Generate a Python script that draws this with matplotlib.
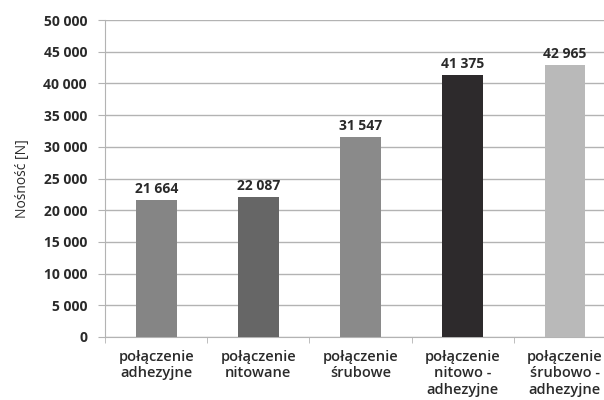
import matplotlib.pyplot as plt
import matplotlib.ticker as mticker

plt.rcParams['font.family'] = ['Open Sans', 'DejaVu Sans']

# Data
categories = ['połączenie\nadhezyjne', 'połączenie\nnitowane', 'połączenie\nśrubowe',
              'połączenie\nnitowo -\nadhezyjne', 'połączenie\nśrubowo -\nadhezyjne']
values = [21664, 22087, 31547, 41375, 42965]
bar_colors = ['#858585', '#666666', '#8a8a8a', '#2d2a2c', '#b9b9b9']

fig = plt.figure(figsize=(6.04, 4.0), dpi=100)
ax = fig.add_axes([0.174, 0.1575, 0.846, 0.7925])

x = list(range(len(values)))
ax.bar(x, values, width=0.4, color=bar_colors, zorder=3)

# value labels above the bars
for xi, v in zip(x, values):
    ax.text(xi, v + 600, f"{v:,}".replace(',', ' '), ha='center', va='bottom',
            fontsize=10, fontweight='bold', color='#2a2a2a')

ax.set_xlim(-0.5, len(values) - 0.5)
ax.set_ylim(0, 50000)
ax.yaxis.set_major_locator(mticker.MultipleLocator(5000))
ax.yaxis.set_major_formatter(mticker.FuncFormatter(lambda v, p: f"{int(v):,}".replace(',', ' ')))
ax.grid(axis='y', color='#b3b3b3', linewidth=1, zorder=0)

ax.set_xticks(x)
ax.set_xticklabels(categories, fontsize=10.5, color='#2a2a2a', fontweight='semibold',
                   linespacing=1.25)
ax.set_xticks([i + 0.5 for i in range(-1, len(values))], minor=True)
ax.tick_params(axis='x', which='major', length=0, pad=9)
ax.tick_params(axis='x', which='minor', length=4, color='#b3b3b3', direction='out')
ax.tick_params(axis='y', length=5, color='#b3b3b3', labelsize=10, labelcolor='#2a2a2a', pad=8)
for lbl in ax.get_yticklabels():
    lbl.set_fontweight('bold')

for side in ['top', 'right']:
    ax.spines[side].set_visible(False)
for side in ['left', 'bottom']:
    ax.spines[side].set_color('#b3b3b3')

ax.set_ylabel('Nośność [N]', fontsize=10, color='#2a2a2a', labelpad=10)

fig.savefig('out.png', dpi=100)
